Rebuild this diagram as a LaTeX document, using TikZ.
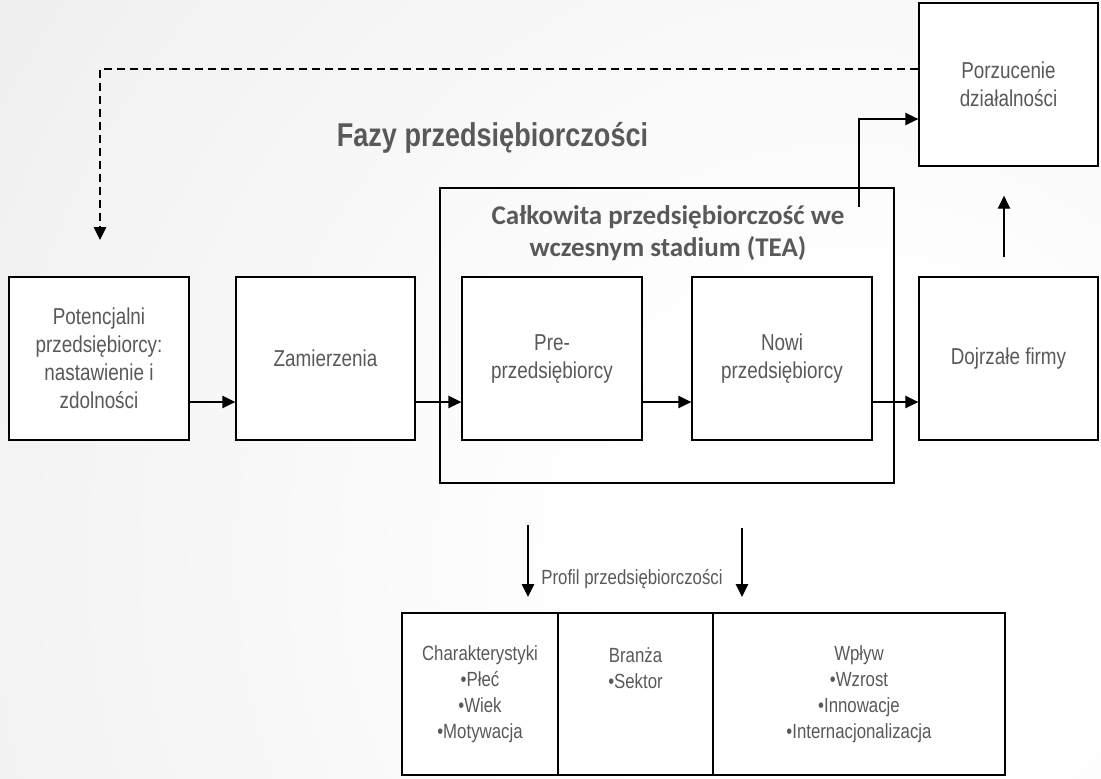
\documentclass[tikz,border=0pt]{standalone}
\usepackage{fontspec}
\newfontfamily\arialn[FakeStretch=0.82]{Liberation Sans}
\newfontfamily\calib{Carlito}
\usetikzlibrary{arrows.meta,calc}
\definecolor{txt}{HTML}{595959}
\definecolor{bgl}{HTML}{E2E2E2}
\pgfdeclareradialshading{bgshade}{\pgfpoint{0bp}{0bp}}{color(0bp)=(white); color(5bp)=(white); color(35bp)=(bgl); color(50bp)=(bgl)}
\begin{document}
\begin{tikzpicture}[x=1pt,y=-1pt,
  box/.style={draw=black,line width=1.4pt,fill=white,minimum width=180pt,minimum height=163pt,
    inner sep=0pt,align=center,text=txt,font=\arialn\fontsize{23}{28}\selectfont},
  cell/.style={draw=black,line width=1.4pt,fill=white,minimum height=162pt,inner sep=0pt,
    align=center,text=txt,font=\arialn\fontsize{20.5}{26}\selectfont},
  arr/.style={line width=1.4pt,-{Triangle[length=13pt,width=12.5pt]}},
  dsh/.style={arr,dash pattern=on 8pt off 5pt}]
\useasboundingbox (0,0) rectangle (1101,779);
\begin{scope}
  \clip (0,0) rectangle (1101,779);
  \fill[bgl] (0,0) rectangle (1101,779);
  \shade[shading=bgshade] (850,560) circle (1200);
\end{scope}

% title
\node[text=txt,font=\arialn\bfseries\fontsize{33}{36}\selectfont] (title) at (492.5,138) {Fazy przedsiębiorczości};

% TEA container
\node[draw=black,line width=1.4pt,minimum width=454pt,minimum height=295pt,inner sep=0pt] (tea) at (667,335.5) {};
\node[text=txt,align=center,font=\calib\bfseries\fontsize{27}{32}\selectfont] (teatitle) at (668,233)
  {Całkowita przedsiębiorczość we\\wczesnym stadium (TEA)};

% boxes
\node[box] (pot) at (99,358.5) {Potencjalni\\przedsiębiorcy:\\nastawienie i\\zdolności};
\node[box,minimum width=179pt] (zam) at (325.5,358.5) {Zamierzenia};
\node[box] (pre) at (552,358.5) {Pre-\\przedsiębiorcy};
\node[box] (nowi) at (782,358.5) {Nowi\\przedsiębiorcy};
\node[box,minimum width=179pt] (doj) at (1008.5,358.5) {Dojrzałe firmy};
\node[box,minimum width=179pt] (porz) at (1008.5,84.5) {Porzucenie\\działalności};

% horizontal flow
\draw[arr] ([yshift=-43.5pt]pot.east) -- ([yshift=-43.5pt]zam.west);
\draw[arr] ([yshift=-43.5pt]zam.east) -- ([yshift=-43.5pt]pre.west);
\draw[arr] ([yshift=-43.5pt]pre.east) -- ([yshift=-43.5pt]nowi.west);
\draw[arr] ([yshift=-43.5pt]nowi.east) -- ([yshift=-43.5pt]doj.west);

% dashed feedback
\coordinate (dcorner) at (100,69);
\coordinate (dtip) at (100,240);
\draw[dsh] ([yshift=15.5pt]porz.west) -- (dcorner) -- (dtip);

% TEA to Porzucenie
\coordinate (teaout) at (859,207);
\draw[arr] (teaout) |- ([yshift=-34.5pt]porz.west);

% Dojrzale to Porzucenie
\draw[arr,shorten <=19pt,shorten >=29pt] ([xshift=-4.5pt]doj.north) -- ([xshift=-4.5pt]porz.south);

% profile table
\node[cell,minimum width=156pt] (c1) at (480,694) {Charakterystyki\\•Płeć\\•Wiek\\•Motywacja};
\node[cell,minimum width=155pt] (c2) at (635.5,694) {Branża\\•Sektor\\\mbox{}\\\mbox{}};
\node[cell,minimum width=292pt] (c3) at (859,694) {Wpływ\\•Wzrost\\•Innowacje\\•Internacjonalizacja};

\coordinate (p1s) at (528,525);
\coordinate (p1e) at (528,597);
\coordinate (p2s) at (742,528);
\coordinate (p2e) at (742,597);
\draw[arr] (p1s) -- (p1e);
\draw[arr] (p2s) -- (p2e);
\node[text=txt,font=\arialn\fontsize{20.5}{24}\selectfont] (profil) at (632,579) {Profil przedsiębiorczości};
\end{tikzpicture}
\end{document}
